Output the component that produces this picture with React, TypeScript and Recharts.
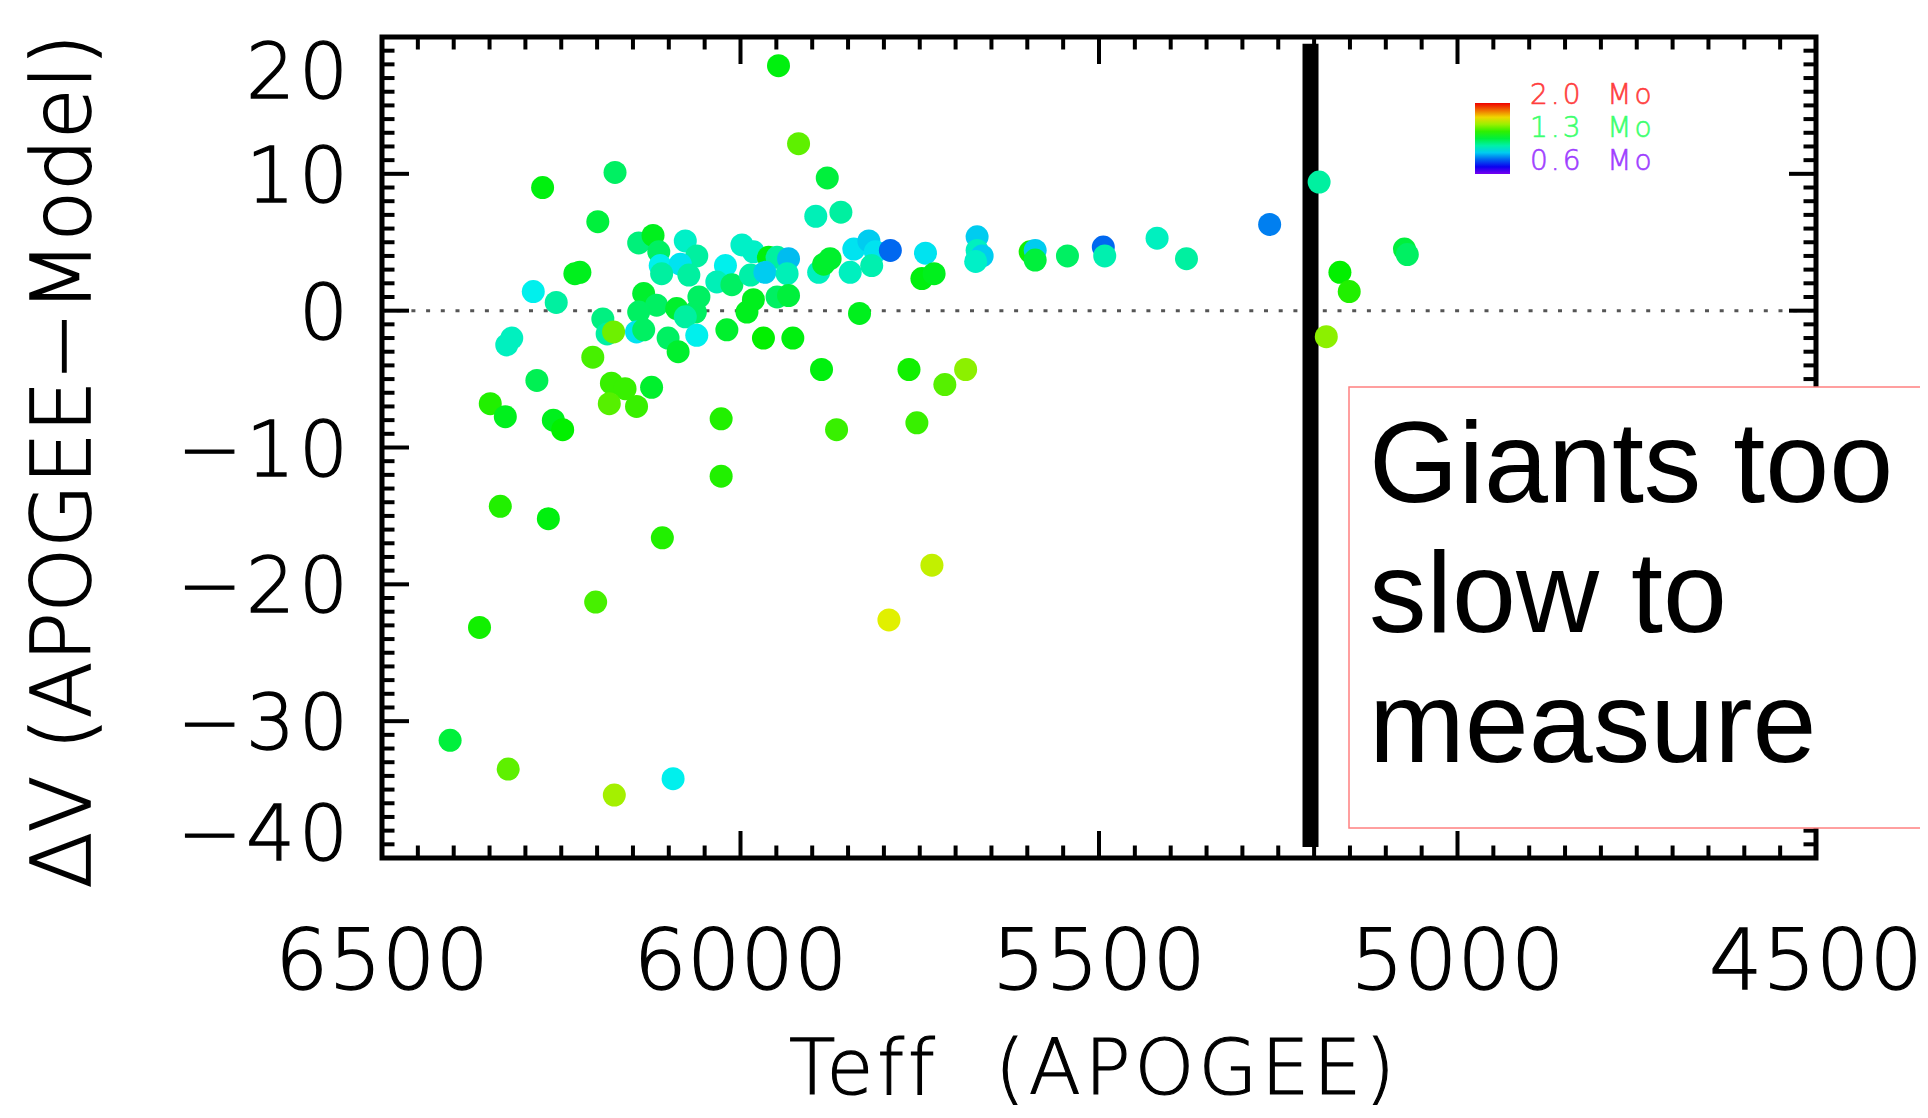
import { ScatterChart, Scatter, XAxis, YAxis, ReferenceLine, ReferenceArea } from "recharts";

// Teff (K), deltaV (km/s) and stellar mass (Msun)
const teff = [
  5919, 5879, 5895, 5860, 6175, 6276, 6199, 6142, 6122, 6114, 6077, 6061, 6112, 6084, 6110, 6072,
  6224, 6231, 6289, 6257, 5998, 5982, 6021, 6033, 6012, 5986, 5961, 5949, 5933, 5966, 5935, 5891,
  5884, 5875, 5842, 5821, 5812, 5791, 5847, 5817, 5742, 5747, 5730, 6135, 6117, 6142, 6089, 6058,
  6063, 6077, 6192, 6186, 6177, 6145, 6135, 6101, 6087, 6061, 6019, 5991, 5982, 5949, 5933, 5968,
  5927, 5834, 6319, 6326, 6206, 6284, 6349, 6328, 6261, 6248, 6180, 6161, 6183, 6145, 6124, 6027,
  5887, 5866, 5765, 5754, 5715, 5686, 5733, 5793, 6027, 6335, 6268, 6109, 6202, 6364, 6405, 6324,
  6176, 6094, 5947, 5670, 5670, 5663, 5672, 5596, 5589, 5589, 5544, 5494, 5492, 5419, 5378, 5262,
  5193, 5164, 5151, 5074, 5070, 5183,
];
const deltaV = [
  12.2, 9.7, 6.9, 7.2, 10.1, 9.0, 6.5, 4.95, 5.5, 4.3, 5.1, 4.0, 3.3, 3.4, 2.7, 2.6,
  2.8, 2.7, 1.4, 0.6, 4.8, 4.3, 3.3, 2.1, 1.9, 2.6, 3.9, 3.9, 3.8, 2.8, 2.7, 2.8,
  3.4, 3.8, 4.5, 5.1, 4.3, 4.4, 2.8, 3.3, 4.2, 2.35, 2.7, 1.25, 0.4, -0.1, 0.15, 1.0,
  -0.1, -0.45, -0.6, -1.7, -1.55, -1.55, -1.4, -2.0, -3.0, -1.8, -1.4, -0.1, 0.8, 1.0, 1.1, -2.0,
  -2.0, -0.2, -2.0, -2.5, -3.4, -5.1, -6.8, -7.75, -8.0, -8.7, -5.3, -5.7, -6.8, -7.0, -5.6, -7.9,
  -4.3, -8.7, -4.3, -8.2, -5.4, -4.3, -18.6, -22.6, -12.1, -14.3, -15.2, -16.6, -21.3, -23.15, -31.4, -33.5,
  -35.4, -34.2, 17.9, 5.4, 4.4, 4.0, 3.6, 4.3, 4.4, 3.7, 4.0, 4.65, 4.0, 5.3, 3.8, 6.3,
  9.4, 2.8, 1.4, 4.5, 4.1, -1.9,
];
const mass = [
  1.5, 1.3, 1.14, 1.17, 1.25, 1.36, 1.3, 1.22, 1.34, 1.25, 1.12, 1.17, 1.07, 1.05, 1.17, 1.17,
  1.34, 1.34, 1.07, 1.17, 1.12, 1.12, 1.07, 1.14, 1.25, 1.16, 1.36, 1.17, 1.0, 1.02, 1.14, 1.13,
  1.32, 1.32, 1.05, 1.02, 1.05, 0.89, 1.13, 1.15, 1.05, 1.36, 1.34, 1.32, 1.25, 1.25, 1.32, 1.25,
  1.25, 1.17, 1.21, 1.17, 1.52, 1.05, 1.25, 1.25, 1.32, 1.07, 1.32, 1.34, 1.34, 1.25, 1.3, 1.38,
  1.36, 1.34, 1.13, 1.13, 1.47, 1.27, 1.42, 1.34, 1.34, 1.38, 1.45, 1.45, 1.49, 1.45, 1.32, 1.42,
  1.36, 1.45, 1.4, 1.45, 1.49, 1.56, 1.63, 1.67, 1.42, 1.42, 1.36, 1.42, 1.47, 1.4, 1.3, 1.5,
  1.59, 1.07, 1.36, 1.02, 1.13, 1.02, 1.12, 1.4, 1.02, 1.3, 1.25, 0.89, 1.15, 1.13, 1.17, 0.92,
  1.17, 1.38, 1.42, 1.3, 1.25, 1.56,
];

const legendMasses = [2.0, 1.3, 0.6];
const noteLines = ["Giants too", "slow to", "measure"];
const giantLimit = 5205;

const xTicks: number[] = [];
for (let t = 4500; t <= 6500; t += 50) xTicks.push(t);
const yTicks: number[] = [];
for (let v = -40; v <= 20; v += 1) yTicks.push(v);

const data = teff.map((t, i) => ({ t, v: deltaV[i], m: mass[i] }));

// rainbow: 2.0 Mo red -> 0.6 Mo purple
function hueOf(m: number) {
  const h = (270 * (2.0 - m)) / 1.4;
  return Math.max(0, Math.min(270, h));
}
const massColor = (m: number) => `hsl(${hueOf(m)}, 100%, 47%)`;

const W = 1920;
const H = 1110;
const PL = 374;
const PT = 29;
const PW = 1434;
const PH = 821;
const FONT = "DejaVu Sans";

const fmt = (v: number) => (v < 0 ? "\u2212" + Math.abs(v) : String(v));

function XTick(props: any) {
  const { x, y, payload } = props;
  const v = payload.value;
  const major = v % 500 === 0;
  const len = major ? 27 : 12.5;
  return (
    <g>
      <line x1={x} x2={x} y1={y} y2={y - len} stroke="#000" strokeWidth={4} />
      <line x1={x} x2={x} y1={y - PH} y2={y - PH + len} stroke="#000" strokeWidth={4} />
      {major && (
        <text
          x={x}
          y={y + 131}
          textAnchor="middle"
          fontFamily={FONT}
          fontWeight={200}
          fontSize={84}
          fill="#000"
          stroke="#000"
          strokeWidth={1.3}
        >
          {v}
        </text>
      )}
    </g>
  );
}

function YTick(props: any) {
  const { x, y, payload } = props;
  const v = payload.value;
  const major = v % 10 === 0;
  const len = major ? 27 : 12.5;
  const shift = v === 20 ? 33 : v === -40 ? -26 : 0;
  return (
    <g>
      <line x1={x} x2={x + len} y1={y} y2={y} stroke="#000" strokeWidth={4} />
      <line x1={x + PW} x2={x + PW - len} y1={y} y2={y} stroke="#000" strokeWidth={4} />
      {major && (
        <text
          x={x - 30}
          y={y + shift + 28}
          textAnchor="end"
          fontFamily={FONT}
          fontWeight={200}
          fontSize={77}
          letterSpacing={4}
          fill="#000"
          stroke="#000"
          strokeWidth={1.3}
        >
          {fmt(v)}
        </text>
      )}
    </g>
  );
}

export default function App() {
  return (
    <div style={{ position: "relative", width: W, height: H, overflow: "hidden" }}>
      <ScatterChart width={W} height={H} margin={{ top: PT, right: W - PL - PW, bottom: 0, left: 0 }}>
        <XAxis
          type="number"
          dataKey="t"
          domain={[4500, 6500]}
          reversed
          ticks={xTicks}
          interval={0}
          tick={XTick}
          tickLine={false}
          axisLine={false}
          tickSize={0}
          tickMargin={0}
          height={H - PT - PH}
        />
        <YAxis
          type="number"
          dataKey="v"
          domain={[-40, 20]}
          ticks={yTicks}
          interval={0}
          tick={YTick}
          tickLine={false}
          axisLine={false}
          tickSize={0}
          tickMargin={0}
          width={PL}
        />
        <ReferenceLine y={0} stroke="#555" strokeWidth={3} strokeDasharray="4 10.7" />
        <Scatter
          data={data}
          isAnimationActive={false}
          shape={(p: any) => <circle cx={p.cx} cy={p.cy} r={11.5} fill={massColor(p.payload.m)} />}
        />
        <ReferenceLine
          segment={[
            { x: giantLimit, y: -39.2 },
            { x: giantLimit, y: 19.5 },
          ]}
          stroke="#000"
          strokeWidth={16}
        />
        <ReferenceArea x1={4500} x2={6500} y1={-40} y2={20} fill="none" stroke="#000" strokeWidth={5} fillOpacity={0} />
      </ScatterChart>
      <svg width={W} height={H} style={{ position: "absolute", left: 0, top: 0, pointerEvents: "none" }}>
        <defs>
          <linearGradient id="massbar" x1="0" y1="0" x2="0" y2="1">
            {[0, 0.1, 0.2, 0.3, 0.4, 0.5, 0.6, 0.7, 0.8, 0.9, 1].map((f) => (
              <stop key={f} offset={f} stopColor={massColor(2.0 - f * 1.4)} />
            ))}
          </linearGradient>
        </defs>
        <text
          x={1086}
          y={1086}
          textAnchor="middle"
          fontFamily={FONT}
          fontWeight={200}
          fontSize={76}
          letterSpacing={4}
          stroke="#000"
          strokeWidth={1.2}
          style={{ whiteSpace: "pre" }}
        >
          {"Teff  (APOGEE)"}
        </text>
        <text
          transform="translate(82,453) rotate(-90)"
          textAnchor="middle"
          fontFamily={FONT}
          fontWeight={200}
          fontSize={82}
          stroke="#000"
          strokeWidth={1.6}
        >
          {"\u0394V (APOGEE\u2212Model)"}
        </text>
        <rect x={1467} y={95} width={35} height={71} fill="url(#massbar)" />
        {legendMasses.map((m, i) => (
          <text
            key={m}
            x={1522}
            y={96 + i * 33}
            fontFamily={FONT}
            fontWeight={200}
            fontSize={28}
            letterSpacing={3}
            fill={`hsl(${hueOf(m)}, 100%, 62%)`}
            stroke={`hsl(${hueOf(m)}, 100%, 62%)`}
            strokeWidth={0.6}
            style={{ whiteSpace: "pre" }}
          >
            {m.toFixed(1) + "  Mo"}
          </text>
        ))}
        <rect x={1341} y={379} width={700} height={441} fill="#fff" stroke="#ff8080" strokeWidth={1.5} />
        {noteLines.map((s, i) => (
          <text key={s} x={1361} y={494 + i * 130} fontFamily="Liberation Sans" fontSize={115} fill="#000">
            {s}
          </text>
        ))}
      </svg>
    </div>
  );
}
